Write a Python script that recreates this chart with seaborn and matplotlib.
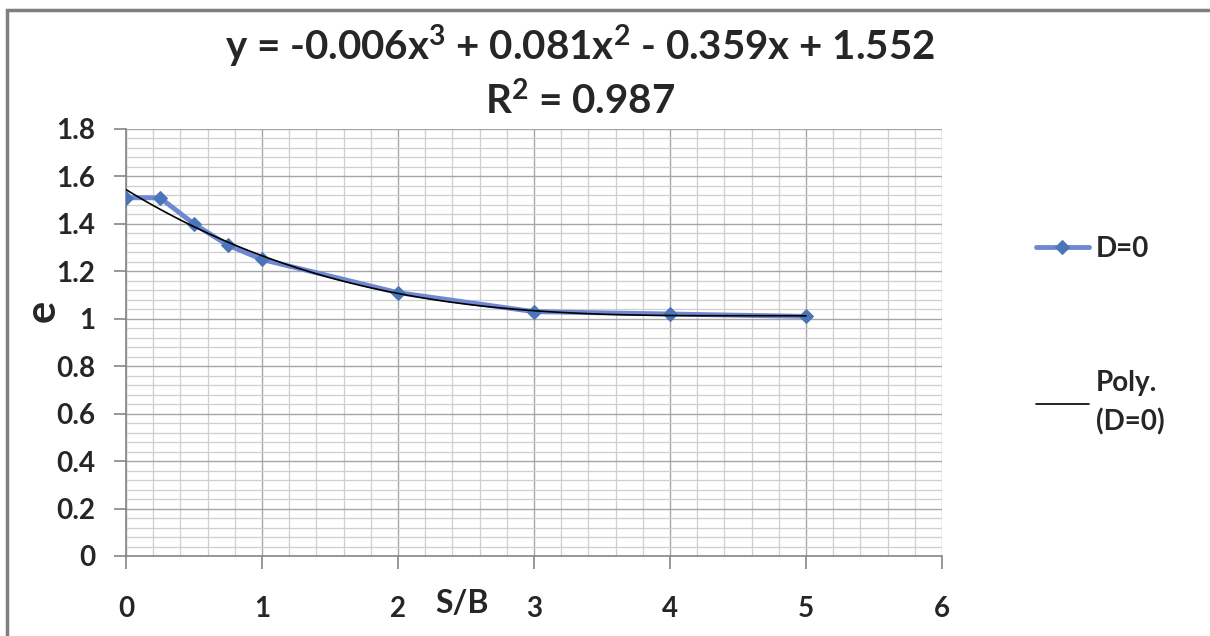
import numpy as np
import pandas as pd
import matplotlib
matplotlib.use('Agg')
import matplotlib.pyplot as plt
import seaborn as sns
from matplotlib.ticker import MultipleLocator, FixedLocator, FixedFormatter
from matplotlib.patches import Rectangle

# Dados
s_b = [0, 0.25, 0.5, 0.75, 1, 2, 3, 4, 5]
e_vals = [1.51, 1.51, 1.40, 1.31, 1.25, 1.11, 1.03, 1.02, 1.01]

x_ticks = [0, 1, 2, 3, 4, 5, 6]
y_ticks = [0, 0.2, 0.4, 0.6, 0.8, 1.0, 1.2, 1.4, 1.6, 1.8]
y_tick_labels = ['0', '0.2', '0.4', '0.6', '0.8', '1', '1.2', '1.4', '1.6', '1.8']

titulo = 'y = -0.006x$^{3}$ + 0.081x$^{2}$ - 0.359x + 1.552\nR$^{2}$ = 0.987'
serie_label = 'D=0'
trend_label = 'Poly.\n(D=0)'

df = pd.DataFrame({'S/B': s_b, 'e': e_vals})

sns.set_style('white')
plt.rcParams['font.family'] = ['Lato', 'DejaVu Sans']
plt.rcParams['font.weight'] = 'bold'
plt.rcParams['mathtext.fontset'] = 'custom'
plt.rcParams['mathtext.rm'] = 'Lato:bold'
plt.rcParams['mathtext.default'] = 'rm'

fig = plt.figure(figsize=(12.1, 6.36), dpi=100)
ax = fig.add_axes([0.1041, 0.1258, 0.6744, 0.6714])

# Série de dados
sns.lineplot(data=df, x='S/B', y='e', ax=ax, color='#7088d2', lw=3.5,
             marker='D', markersize=7, markerfacecolor='#4a76b8',
             markeredgecolor='#4a76b8', label=serie_label, zorder=3)
linha_serie = ax.lines[-1]

# Linha de tendência polinomial (ordem 3)
sns.regplot(data=df, x='S/B', y='e', ax=ax, order=3, scatter=False, ci=None,
            truncate=True, line_kws={'color': 'black', 'lw': 1.2, 'zorder': 4})
linha_trend = ax.lines[-1]

ax.set_xlim(0, 6)
ax.set_ylim(0, 1.8)
ax.xaxis.set_major_locator(FixedLocator(x_ticks))
ax.yaxis.set_major_locator(FixedLocator(y_ticks))
ax.yaxis.set_major_formatter(FixedFormatter(y_tick_labels))
ax.xaxis.set_minor_locator(MultipleLocator(0.2))
ax.yaxis.set_minor_locator(MultipleLocator(0.04))

ax.grid(which='major', color='#a6a6a6', lw=1)
ax.grid(which='minor', color='#cfcfcf', lw=0.9)
ax.set_axisbelow(True)

for s in ['top', 'right']:
    ax.spines[s].set_visible(False)
for s in ['left', 'bottom']:
    ax.spines[s].set_color('#868686')
    ax.spines[s].set_linewidth(1.2)

ax.tick_params(which='major', bottom=True, left=True, length=9, width=1.2,
               color='#868686', labelsize=20)
ax.tick_params(axis='y', which='major', pad=13)
ax.tick_params(axis='x', which='major', pad=20)
ax.tick_params(which='minor', length=0)

ax.set_xlabel('S/B', fontsize=23, fontweight='bold')
ax.xaxis.set_label_coords(0.412, -0.112)
ax.xaxis.label.set_va('center')
ax.set_ylabel('e', fontsize=30, fontweight='bold')
ax.yaxis.set_label_coords(-0.1017, 0.574)
ax.yaxis.label.set_va('center')
ax.yaxis.label.set_ha('center')

fig.text(0.479, 1 - 72 / 636, titulo, ha='center', va='center',
         fontsize=29, fontweight='bold', linespacing=1.3)

leg = ax.legend(handles=[linha_serie, linha_trend], labels=[serie_label, trend_label],
                loc='upper left', bbox_to_anchor=(1022 / 1210, 1 - 222 / 636),
                bbox_transform=fig.transFigure, frameon=False, fontsize=20,
                handlelength=1.9, handletextpad=0.25, labelspacing=3.9, borderpad=0)
for t in leg.get_texts():
    t.set_linespacing(1.55)

# Moldura do gráfico
fig.add_artist(Rectangle((7 / 1210, -0.1), 1.2, 1.1 - 10 / 636,
                         transform=fig.transFigure, fill=False,
                         edgecolor='#7f7f7f', lw=2.5))

fig.savefig('out.png', dpi=100)
